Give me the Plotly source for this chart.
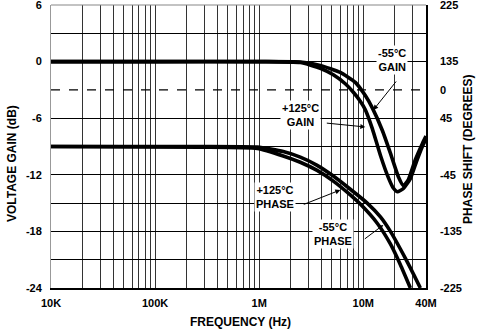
import numpy as np
import plotly.graph_objects as go

# ---------------- data ----------------
gain_m55_freq = [1e4, 1e5, 1e6, 2.48e6, 3.86e6, 6.01e6, 8.38e6, 1.045e7, 1.22e7, 1.524e7,
                 1.82e7, 2.17e7, 2.43e7, 2.71e7, 3.16e7, 3.69e7, 4e7]
gain_m55_db = [0, 0, 0, -0.04, -0.4, -1.15, -2.2, -3.6, -4.9, -7.3,
               -9.7, -12.2, -13.15, -12.5, -10.4, -8.7, -7.9]

gain_p125_freq = [1e4, 1e5, 1e6, 2.48e6, 3.86e6, 5.15e6, 6.71e6, 8.02e6, 9.35e6, 1.045e7,
                  1.22e7, 1.456e7, 1.74e7, 1.94e7, 2.12e7, 2.43e7, 2.83e7, 3.24e7, 3.69e7, 4e7]
gain_p125_db = [0, 0, 0, -0.1, -0.7, -1.4, -2.35, -3.25, -4.2, -5.1,
                -7.1, -9.9, -12.3, -13.4, -13.8, -13.45, -12.4, -10.6, -9.0, -8.2]

phase_m55_freq = [1e4, 2.7e5, 9.6e5, 1.7e6, 2.48e6, 3.6e6, 5.15e6, 7.5e6, 1.09e7, 1.46e7,
                  1.82e7, 2.27e7, 2.83e7, 3.53e7]
phase_m55_deg = [0, 0, -1, -8, -17, -30, -47, -68, -90, -112, -135, -163, -193, -225]

phase_p125_freq = [1e4, 2.7e5, 9.6e5, 1.7e6, 2.48e6, 3.6e6, 5.15e6, 7.5e6, 9.4e6, 1.36e7,
                   1.82e7, 2.27e7, 2.83e7]
phase_p125_deg = [0, -1, -3, -15, -25, -38, -55, -77, -92, -122, -155, -188, -225]

x_tick_vals = [1e4, 1e5, 1e6, 1e7, 4e7]
x_tick_text = ["10K", "100K", "1M", "10M", "40M"]
y_label_vals = [6, 0, -6, -12, -18, -24]
y_grid_vals = [6, 3, 0, -6, -9, -12, -15, -18, -21, -24]
y2_tick_vals = [225, 135, 90, 45, -45, -135, -225]
y2_tick_text = ["225", "135", "0", "45", "-45", "-135", "-225"]

# ---------------- figure ----------------
FONT = "Liberation Sans Narrow, Arial Narrow, Liberation Sans, sans-serif"
fig = go.Figure()

line_style = dict(color="black", width=3.6, shape="spline", smoothing=0.5)
fig.add_trace(go.Scatter(x=gain_m55_freq, y=gain_m55_db, mode="lines", line=line_style,
                         name="-55°C GAIN", hoverinfo="skip"))
fig.add_trace(go.Scatter(x=gain_p125_freq, y=gain_p125_db, mode="lines", line=line_style,
                         name="+125°C GAIN", hoverinfo="skip"))
fig.add_trace(go.Scatter(x=phase_m55_freq, y=phase_m55_deg, mode="lines", line=line_style,
                         name="-55°C PHASE", yaxis="y2", hoverinfo="skip"))
fig.add_trace(go.Scatter(x=phase_p125_freq, y=phase_p125_deg, mode="lines", line=line_style,
                         name="+125°C PHASE", yaxis="y2", hoverinfo="skip"))

# log grid tick positions (1..9 per decade)
grid_x = []
for dec in [1e4, 1e5, 1e6, 1e7]:
    for m in range(1, 10):
        v = dec * m
        if v <= 4e7:
            grid_x.append(v)
grid_text = []
for v in grid_x:
    if v in x_tick_vals:
        grid_text.append(x_tick_text[x_tick_vals.index(v)])
    else:
        grid_text.append("")

y_text = [str(v) if v in y_label_vals else "" for v in y_grid_vals]

fig.update_layout(
    width=481, height=333,
    margin=dict(l=51, r=55, t=5, b=45, autoexpand=False),
    paper_bgcolor="white", plot_bgcolor="white",
    showlegend=False,
    font=dict(family=FONT, color="black", size=11),
    xaxis=dict(
        type="log", range=[4, np.log10(4e7)],
        tickvals=grid_x, ticktext=grid_text,
        showgrid=True, gridcolor="#333", gridwidth=1,
        ticks="", ticklabelstandoff=4, ticklabeloverflow="allow", automargin=False,
        tickfont=dict(family=FONT, size=11, weight="bold"),
        showline=True, linecolor="black", linewidth=1.5, mirror=False,
        zeroline=False,
    ),
    yaxis=dict(
        range=[-24, 6], tickvals=y_grid_vals, ticktext=y_text,
        showgrid=True, gridcolor="black", gridwidth=1.3,
        ticks="", ticklabelstandoff=6, ticklabeloverflow="allow", automargin=False,
        tickfont=dict(family=FONT, size=11, weight="bold"),
        showline=True, linecolor="#999", linewidth=1, zeroline=False,
    ),
    yaxis2=dict(
        overlaying="y", side="right", range=[-225, 225],
        tickvals=y2_tick_vals, ticktext=y2_tick_text,
        showgrid=False, zeroline=False, ticks="", ticklabelstandoff=10,
        ticklabeloverflow="allow", automargin=False,
        tickfont=dict(family=FONT, size=11, weight="bold"),
        showline=True, linecolor="black", linewidth=1.5,
    ),
)

# dashed -3 dB grid line
fig.add_shape(type="line", xref="paper", x0=0, x1=1, yref="y", y0=-3, y1=-3,
              line=dict(color="black", width=1.2, dash="dash"))
# top border
fig.add_shape(type="line", xref="paper", x0=0, x1=1, yref="paper", y0=1, y1=1,
              line=dict(color="#888", width=1.2))

lab = dict(family=FONT, size=11, weight="bold", color="black")
# curve labels (annotation x is log10(freq) on log axis)
texts = [
    ("-55°C<br>GAIN", 7.279, 0.2),
    ("+125°C<br>GAIN", 6.394, -5.66),
    ("+125°C<br>PHASE", 6.154, -14.35),
    ("-55°C<br>PHASE", 6.712, -18.27),
]
for t, x, y in texts:
    fig.add_annotation(text=t, x=x, y=y, xref="x", yref="y", showarrow=False,
                       xanchor="center", yanchor="middle",
                       font=lab, bgcolor="white", borderpad=1, align="center")

arrows = [
    (7.096, -5.13, 24, -30),
    (7.019, -6.93, -40, -4),
    (6.779, -13.61, -38, 15),
    (7.192, -17.32, -20, 15),
]
for x, y, ax, ay in arrows:
    fig.add_annotation(text="", x=x, y=y, xref="x", yref="y", ax=ax, ay=ay,
                       showarrow=True, arrowhead=2, arrowsize=1, arrowwidth=1,
                       arrowcolor="black")

# axis titles
title_font = dict(family=FONT, size=12, weight="bold")
fig.add_annotation(text="VOLTAGE GAIN (dB)", xref="paper", yref="paper",
                   x=-0.104, y=0.438, textangle=-90, showarrow=False,
                   xanchor="center", yanchor="middle", font=title_font)
fig.add_annotation(text="PHASE SHIFT (DEGREES)", xref="paper", yref="paper",
                   x=1.112, y=0.488, textangle=-90, showarrow=False,
                   xanchor="center", yanchor="middle", font=title_font)
fig.add_annotation(text="FREQUENCY (Hz)", xref="paper", yref="paper",
                   x=0.504, y=-0.12, showarrow=False,
                   xanchor="center", yanchor="middle", font=title_font)

fig.write_html("out.html")
